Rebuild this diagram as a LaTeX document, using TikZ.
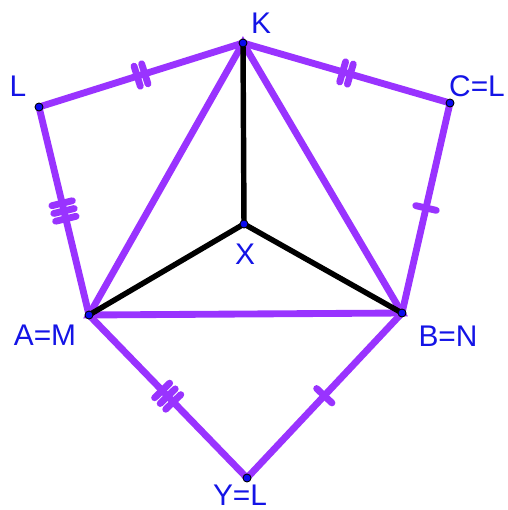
\documentclass[tikz,border=0pt]{standalone}
\usepackage{fontspec}
\setmainfont{Liberation Sans}
\usetikzlibrary{decorations.markings}
\definecolor{figLine}{RGB}{153,51,255}
\definecolor{figText}{RGB}{20,20,230}
\definecolor{figDot}{RGB}{10,10,240}
\tikzset{
  purp/.style={figLine, line width=3.9pt, line cap=round},
  blk/.style={black, line width=3.1pt, line cap=round},
  lbl/.style={text=figText, font=\fontsize{17}{20}\selectfont, inner sep=0pt},
  tickone/.style={postaction={decorate, decoration={markings,
      mark=at position 0.5 with {\draw[figLine, line width=3.9pt] (0,-0.21cm)--(0,0.21cm);}}}},
  ticktwo/.style={postaction={decorate, decoration={markings,
      mark=at position 0.5 with {\draw[figLine, line width=3.9pt] (-0.08cm,-0.21cm)--(-0.08cm,0.21cm)
        (0.08cm,-0.21cm)--(0.08cm,0.21cm);}}}},
  tickthree/.style={postaction={decorate, decoration={markings,
      mark=at position 0.5 with {\draw[figLine, line width=3.9pt] (-0.16cm,-0.21cm)--(-0.16cm,0.21cm)
        (0,-0.21cm)--(0,0.21cm) (0.16cm,-0.21cm)--(0.16cm,0.21cm);}}}}
}

\begin{document}
\begin{tikzpicture}[x=0.02cm, y=-0.02cm]
        \useasboundingbox (0,0) rectangle (507,510);
        \coordinate (K) at (243,43);
        \coordinate (L) at (39,107);
        \coordinate (C) at (450,103);
        \coordinate (X) at (244,224);
        \coordinate (A) at (89,315);
        \coordinate (B) at (402,313);
        \coordinate (Y) at (247,478);
        % outer kite sides
        \draw[purp, ticktwo](L)--(K);
        \draw[purp, tickthree](L)--(A);
        \draw[purp, ticktwo](K)--(C);
        \draw[purp, tickone](C)--(B);
        \draw[purp, tickthree](A)--(Y);
        \draw[purp, tickone](Y)--(B);
        % triangle
        \draw[purp](K)--(A)--(B)--cycle;
        \draw[blk](X)--(K);
        \draw[blk](X)--(A);
        \draw[blk](X)--(B);
        \foreach \p in {K,L,C,X,A,B,Y}
          \filldraw[fill=figDot, draw=black, line width=0.5pt] (\p) circle (4);
        \node[lbl] (labK) at (261,23){K};
        \node[lbl] (labL) at (18,86){L};
        \node[lbl] (labC) at (477,86){C=L};
        \node[lbl] (labX) at (245,254){X};
        \node[lbl] (labA) at (45,335){A=M};
        \node[lbl] (labB) at (448,336){B=N};
        \node[lbl] (labY) at (240,495){Y=L};
      \end{tikzpicture}
\end{document}
